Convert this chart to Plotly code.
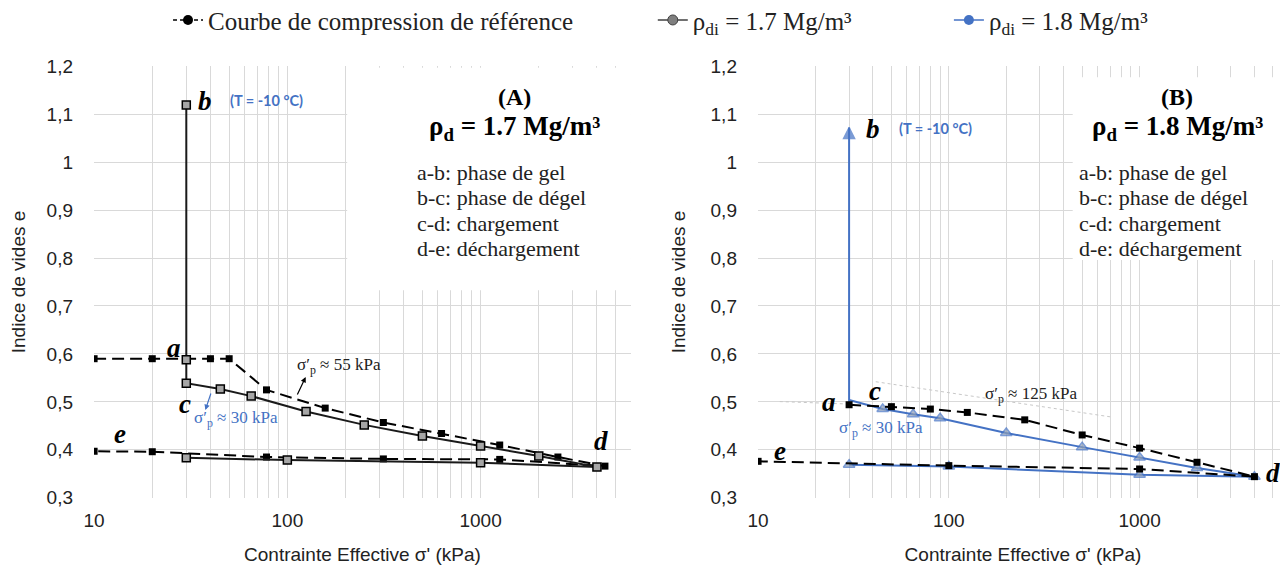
import plotly.graph_objects as go

# ---------------- data ----------------
# Panel A (rho_d = 1.7)
refA_x = [10, 20, 40, 50, 78, 157, 314, 628, 1256, 2512, 4400, 1256, 314, 78, 20, 10]
refA_y = [0.590, 0.590, 0.590, 0.590, 0.525, 0.487, 0.457, 0.434, 0.410, 0.385, 0.366,
          0.380, 0.381, 0.385, 0.396, 0.397]
s17_x = [30, 30, 30, 45, 65, 125, 250, 500, 1000, 2000, 4000, 1000, 100, 30]
s17_y = [0.588, 1.119, 0.539, 0.527, 0.512, 0.480, 0.452, 0.429, 0.408, 0.387, 0.364,
         0.373, 0.3785, 0.3835]

# Panel B (rho_d = 1.8)
refB_x = [30, 50, 80, 125, 250, 500, 1000, 2000, 4000, 1000, 100, 10]
refB_y = [0.494, 0.490, 0.485, 0.478, 0.4625, 0.431, 0.4035, 0.374, 0.344, 0.360, 0.367, 0.376]
s18_x = [30, 30, 30, 45, 65, 90, 200, 500, 1000, 2000, 4000, 1000, 100, 30]
s18_y = [0.494, 1.072, 0.504, 0.485, 0.474, 0.466, 0.435, 0.4056, 0.384, 0.362, 0.344,
         0.348, 0.365, 0.369]

# faint construction lines (panel B)
cons1_x = [13.0, 28.5]
cons1_y = [0.5006, 0.4958]
cons2_x = [41.4, 723]
cons2_y = [0.542, 0.468]

# white background areas behind the text blocks (x in kPa, y in e)
boxA_x = [204, 6000, 6000, 204, 204]
boxA_y = [0.733, 0.733, 1.197, 1.197, 0.733]
boxB_x = [446, 6000, 6000, 446, 446]
boxB_y = [0.796, 0.796, 1.177, 1.177, 0.796]

x_tickvals = [10, 100, 1000]
x_ticktext = ["10", "100", "1000"]
x_minor = [20, 30, 40, 50, 60, 70, 80, 90, 200, 300, 400, 500, 600, 700, 800, 900,
           2000, 3000, 4000, 5000]
y_tickvals = [0.3, 0.4, 0.5, 0.6, 0.7, 0.8, 0.9, 1.0, 1.1, 1.2]
y_ticktext = ["0,3", "0,4", "0,5", "0,6", "0,7", "0,8", "0,9", "1", "1,1", "1,2"]

legend_names = ["Courbe de compression de référence",
                "ρ<sub>di</sub> = 1.7 Mg/m³",
                "ρ<sub>di</sub> = 1.8 Mg/m³"]
phase_lines = ["a-b: phase de gel", "b-c: phase de dégel", "c-d: chargement", "d-e: déchargement"]

# ---------------- styles ----------------
SANS = "Liberation Sans, Arial, sans-serif"
SERIF = "Liberation Serif, Times New Roman, serif"
BLUE = "#4472C4"
GRID = "#d9d9d9"
REF_DASH = "12px,6px"

fig = go.Figure()

# white boxes (drawn first: above gridlines, below data)
fig.add_trace(go.Scatter(x=boxA_x, y=boxA_y, mode="lines", fill="toself", fillcolor="white",
                         line=dict(width=0, color="white"), xaxis="x", yaxis="y",
                         showlegend=False, hoverinfo="skip"))
fig.add_trace(go.Scatter(x=boxB_x, y=boxB_y, mode="lines", fill="toself", fillcolor="white",
                         line=dict(width=0, color="white"), xaxis="x2", yaxis="y2",
                         showlegend=False, hoverinfo="skip"))

# Panel A
fig.add_trace(go.Scatter(x=refA_x, y=refA_y, mode="lines+markers", xaxis="x", yaxis="y",
                         line=dict(color="black", width=2, dash=REF_DASH),
                         marker=dict(symbol="square", size=7, color="black"),
                         showlegend=False))
fig.add_trace(go.Scatter(x=s17_x, y=s17_y, mode="lines+markers", xaxis="x", yaxis="y",
                         line=dict(color="#1a1a1a", width=2),
                         marker=dict(symbol="square", size=8, color="#a6a6a6",
                                     line=dict(color="black", width=1.5)),
                         showlegend=False))

# Panel B
s18_symbols = ["triangle-up", "arrow-up", "triangle-up"] + ["triangle-up"] * (len(s18_x) - 3)
s18_sizes = [0, 11, 0] + [10] * (len(s18_x) - 3)
s18_colors = ["#8C9DB5", BLUE, "#8C9DB5"] + ["#8C9DB5"] * (len(s18_x) - 3)
fig.add_trace(go.Scatter(x=cons1_x, y=cons1_y, mode="lines", xaxis="x2", yaxis="y2",
                         line=dict(color="#c8c8c8", width=1, dash="dot"), showlegend=False))
fig.add_trace(go.Scatter(x=cons2_x, y=cons2_y, mode="lines", xaxis="x2", yaxis="y2",
                         line=dict(color="#c8c8c8", width=1, dash="dot"), showlegend=False))
fig.add_trace(go.Scatter(x=s18_x, y=s18_y, mode="lines+markers", xaxis="x2", yaxis="y2",
                         line=dict(color=BLUE, width=2),
                         marker=dict(symbol=s18_symbols, size=s18_sizes, color=s18_colors,
                                     line=dict(color=BLUE, width=1.5)),
                         showlegend=False))
fig.add_trace(go.Scatter(x=refB_x, y=refB_y, mode="lines+markers", xaxis="x2", yaxis="y2",
                         line=dict(color="black", width=2, dash=REF_DASH),
                         marker=dict(symbol="square", size=7, color="black"),
                         showlegend=False))

# Legend-only traces
fig.add_trace(go.Scatter(x=[None], y=[None], mode="lines+markers", name=legend_names[0],
                         line=dict(color="black", width=1.5, dash="4px,3px"),
                         marker=dict(symbol="circle", size=10, color="black"), legend="legend"))
fig.add_trace(go.Scatter(x=[None], y=[None], mode="lines+markers", name=legend_names[1],
                         line=dict(color="#404040", width=1.5),
                         marker=dict(symbol="circle", size=10, color="#7f7f7f",
                                     line=dict(color="#404040", width=1)), legend="legend2"))
fig.add_trace(go.Scatter(x=[None], y=[None], mode="lines+markers", name=legend_names[2],
                         line=dict(color=BLUE, width=1.5),
                         marker=dict(symbol="circle", size=10, color=BLUE), legend="legend3"))

# ---------------- axes ----------------
xaxis_common = dict(type="log", range=[0.9995, 3.778], tickvals=x_tickvals, ticktext=x_ticktext,
                    showgrid=True, gridcolor=GRID, gridwidth=1, zeroline=False, showline=False,
                    ticks="", ticklabelstandoff=9,
                    tickfont=dict(family=SANS, size=19, color="#222"),
                    minor=dict(tickvals=x_minor, showgrid=True, gridcolor=GRID, gridwidth=1, ticks=""),
                    title=dict(text="Contrainte Effective σ' (kPa)",
                               font=dict(family=SANS, size=19, color="#222"), standoff=17))
yaxis_common = dict(range=[0.2995, 1.2005], tickvals=y_tickvals, ticktext=y_ticktext,
                    showgrid=True, gridcolor=GRID, gridwidth=1, zeroline=False, showline=False,
                    ticks="", ticklabelstandoff=20,
                    tickfont=dict(family=SANS, size=19, color="#222"),
                    title=dict(text="Indice de vides e",
                               font=dict(family=SANS, size=19, color="#222"), standoff=19))

LEG_FONT = dict(family=SERIF, size=25, color="#222")
fig.update_layout(
    width=1280, height=562,
    margin=dict(l=86, r=0, t=58, b=72, autoexpand=False),
    plot_bgcolor="white", paper_bgcolor="white",
    xaxis=dict(domain=[0, 0.4497], anchor="y", **xaxis_common),
    yaxis=dict(domain=[0, 1], anchor="x", **yaxis_common),
    xaxis2=dict(domain=[0.5561, 1.0], anchor="y2", **xaxis_common),
    yaxis2=dict(domain=[0, 1], anchor="x2", **yaxis_common),
    legend=dict(x=0.062, y=1.106, xanchor="left", yanchor="middle", bgcolor="rgba(0,0,0,0)",
                font=LEG_FONT),
    legend2=dict(x=0.468, y=1.106, xanchor="left", yanchor="middle", bgcolor="rgba(0,0,0,0)",
                 font=LEG_FONT),
    legend3=dict(x=0.716, y=1.106, xanchor="left", yanchor="middle", bgcolor="rgba(0,0,0,0)",
                 font=LEG_FONT),
    showlegend=True,
)


def ann(xr, yr, x, y, text, font, xanchor="center"):
    fig.add_annotation(xref=xr, yref=yr, x=x, y=y, text=text, showarrow=False,
                       font=font, xanchor=xanchor, yanchor="middle")


LETTER = dict(family=SERIF, size=27, color="black")
TEMP = dict(family="Lato, Liberation Sans, sans-serif", size=14.5, color=BLUE)
SIGMA_K = dict(family=SERIF, size=17, color="#222")
SIGMA_B = dict(family=SERIF, size=17, color=BLUE)
HEAD1 = dict(family=SERIF, size=24, color="black")
HEAD2 = dict(family=SERIF, size=27, color="black")
PHASE = dict(family=SERIF, size=22, color="#222")
PHASE_Y = [0.753, 0.695, 0.636, 0.578]

# Panel A annotations
ax_, ay_ = "x domain", "y domain"
ann(ax_, ay_, 0.149, 0.347, "<b><i>a</i></b>", LETTER)
ann(ax_, ay_, 0.2067, 0.919, "<b><i>b</i></b>", LETTER)
ann(ax_, ay_, 0.1695, 0.2176, "<b><i>c</i></b>", LETTER)
ann(ax_, ay_, 0.0484, 0.148, "<b><i>e</i></b>", LETTER)
ann(ax_, ay_, 0.944, 0.132, "<b><i>d</i></b>", LETTER)
ann(ax_, ay_, 0.322, 0.921, "<b>(T = -10 °C)</b>", TEMP)
ann(ax_, ay_, 0.456, 0.3056, "σ′<sub>p</sub> ≈ 55 kPa", SIGMA_K)
ann(ax_, ay_, 0.2644, 0.183, "σ′<sub>p</sub> ≈ 30 kPa", SIGMA_B)
ann(ax_, ay_, 0.784, 0.928, "<b>(A)</b>", HEAD1)
ann(ax_, ay_, 0.784, 0.8565, "<b>ρ<sub>d</sub> = 1.7 Mg/m³</b>", HEAD2)
for i, t in enumerate(phase_lines):
    ann(ax_, ay_, 0.5978, PHASE_Y[i], t, PHASE, xanchor="left")
fig.add_annotation(xref=ax_, yref=ay_, x=0.3942, y=0.2801, ax=-9, ay=19, text="",
                   showarrow=True, arrowhead=2, arrowsize=0.9, arrowwidth=1.2, arrowcolor="black")
fig.add_annotation(xref=ax_, yref=ay_, x=0.2074, y=0.2037, ax=6, ay=-18, text="",
                   showarrow=True, arrowhead=2, arrowsize=0.9, arrowwidth=1.2, arrowcolor=BLUE)

# Panel B annotations
bx_, by_ = "x2 domain", "y2 domain"
ann(bx_, by_, 0.134, 0.222, "<b><i>a</i></b>", LETTER)
ann(bx_, by_, 0.217, 0.854, "<b><i>b</i></b>", LETTER)
ann(bx_, by_, 0.2208, 0.2477, "<b><i>c</i></b>", LETTER)
ann(bx_, by_, 0.0415, 0.1088, "<b><i>e</i></b>", LETTER)
ann(bx_, by_, 0.972, 0.0579, "<b><i>d</i></b>", LETTER)
ann(bx_, by_, 0.334, 0.856, "<b>(T = -10 °C)</b>", TEMP)
ann(bx_, by_, 0.515, 0.238, "σ′<sub>p</sub> ≈ 125 kPa", SIGMA_K)
ann(bx_, by_, 0.232, 0.160, "σ′<sub>p</sub> ≈ 30 kPa", SIGMA_B)
ann(bx_, by_, 0.7906, 0.928, "<b>(B)</b>", HEAD1)
ann(bx_, by_, 0.7906, 0.8565, "<b>ρ<sub>d</sub> = 1.8 Mg/m³</b>", HEAD2)
for i, t in enumerate(phase_lines):
    ann(bx_, by_, 0.602, PHASE_Y[i], t, PHASE, xanchor="left")

fig.write_html("out.html")
